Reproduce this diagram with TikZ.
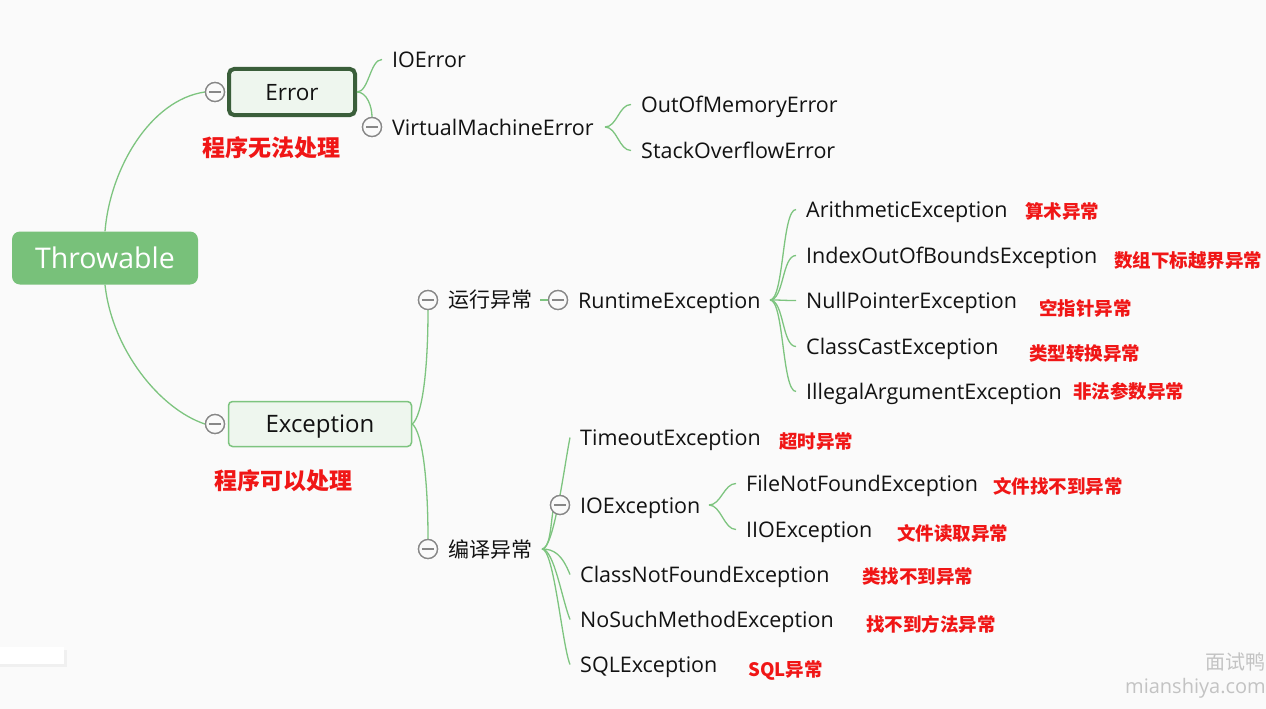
\documentclass[tikz,border=0pt]{standalone}
\usepackage{fontspec}
\newfontfamily\lat{Open Sans}
\newfontfamily\cjk{Noto Sans CJK SC}
\definecolor{bgc}{RGB}{250,250,250}
\definecolor{lnk}{RGB}{125,196,127}
\definecolor{thrc}{RGB}{120,193,122}
\definecolor{errb}{RGB}{58,94,58}
\definecolor{boxf}{RGB}{238,246,238}
\definecolor{tgc}{RGB}{135,135,135}
\definecolor{redc}{RGB}{240,22,22}
\definecolor{wmc}{RGB}{195,195,195}
\tikzset{
  link/.style={draw=lnk,line width=1.3pt},
  item/.style={anchor=base west,inner sep=0pt,text height=15pt,text depth=0pt,font=\lat\fontsize{21.5}{25}\selectfont,text=black!93},
  cn/.style={anchor=west,inner sep=0pt,font=\cjk\fontsize{21}{25}\selectfont,text=black!93},
  note/.style={anchor=west,inner sep=0pt,text=redc,font=\cjk\bfseries\fontsize{18.5}{22}\selectfont},
  bignote/.style={anchor=west,inner sep=0pt,text=redc,font=\cjk\bfseries\fontsize{23}{27}\selectfont},
  tog/.style={circle,draw=tgc,line width=1.3pt,fill=bgc,minimum size=19pt,inner sep=0pt,
    path picture={\draw[tgc,line width=1.3pt] ([xshift=-6pt]path picture bounding box.center) -- ([xshift=6pt]path picture bounding box.center);}},
}
\begin{document}
\begin{tikzpicture}[x=1pt,y=-1pt]
\useasboundingbox (0,0) rectangle (1266,709);
\fill[bgc] (0,0) rectangle (1266,709);
% faint panel bottom-left
\fill[black!6] (0,650) rectangle (67,667);
\fill[white] (0,647) rectangle (64,664);

% root and main boxes
\node[fill=thrc,rounded corners=8pt,minimum width=186pt,minimum height=53pt,inner sep=0pt,
  text height=20pt,text depth=0pt,
  text=white,font=\lat\fontsize{28.5}{32}\selectfont] (thr) at (105,258) {Throwable};
\node[draw=errb,line width=4pt,fill=boxf,rounded corners=5pt,minimum width=126pt,minimum height=46pt,
  inner sep=0pt,text height=16pt,text depth=0pt,text=black!93,font=\lat\fontsize{22.5}{26}\selectfont] (err) at (292,92) {Error};
\node[draw=lnk,line width=1.5pt,fill=boxf,rounded corners=4pt,minimum width=183pt,minimum height=45pt,
  inner sep=0pt,text height=17pt,text depth=0pt,text=black!93,font=\lat\fontsize{24}{28}\selectfont] (exc) at (320,424) {Exception};
\node[tog] (cErr) at (215,92) {};
\node[tog] (cExc) at (215,424) {};
\node[bignote] (n1) at (202,148) {程序无法处理};
\node[bignote] (n2) at (214,481) {程序可以处理};

% Error branch
\node[item] (ioerr) at (392,67) {IOError};
\node[tog] (cVme) at (372,127) {};
\node[item] (vme) at (392,135) {VirtualMachineError};
\node[item] (oom) at (641,112) {OutOfMemoryError};
\node[item] (soe) at (641,158) {StackOverflowError};
\coordinate (fV) at (605,127);

% Exception branch
\node[tog] (cRun) at (428,300) {};
\node[cn] (run) at (448,300) {运行异常};
\node[tog] (cComp) at (428,549) {};
\node[cn] (comp) at (448,549) {编译异常};
\coordinate (fRun) at (540,300);
\node[tog] (cRte) at (558,300) {};
\node[item] (rte) at (578,308) {RuntimeException};
\coordinate (fR) at (770,300);
\node[item] (ari) at (806,217) {ArithmeticException};
\node[item] (idx) at (806,263) {IndexOutOfBoundsException};
\node[item] (npe) at (806,308) {NullPointerException};
\node[item] (cce) at (806,354) {ClassCastException};
\node[item] (iae) at (806,399) {IllegalArgumentException};
\node[note] (r1) at (1025,211) {算术异常};
\node[note] (r2) at (1114,260) {数组下标越界异常};
\node[note] (r3) at (1039,308) {空指针异常};
\node[note] (r4) at (1029,354) {类型转换异常};
\node[note] (r5) at (1073,391) {非法参数异常};

\coordinate (fC) at (542,549);
\node[item] (tmo) at (580,445) {TimeoutException};
\node[tog] (cIO) at (560,505) {};
\node[item] (ioe) at (580,513) {IOException};
\coordinate (fI) at (709,505);
\node[item] (fnf) at (746,491) {FileNotFoundException};
\node[item] (iio) at (746,537) {IIOException};
\node[item] (cnf) at (580,582) {ClassNotFoundException};
\node[item] (nsm) at (580,627) {NoSuchMethodException};
\node[item] (sql) at (580,672) {SQLException};
\node[note] (r6) at (779,441) {超时异常};
\node[note] (r7) at (993,486) {文件找不到异常};
\node[note] (r8) at (897,533) {文件读取异常};
\node[note] (r9) at (862,576) {类找不到异常};
\node[note] (r10) at (866,624) {找不到方法异常};
\node[note] (r11) at (748,671) {SQL异常};

% watermark
\node[anchor=east,inner sep=0pt,text=wmc,font=\cjk\fontsize{20}{22}\selectfont] (wm1) at (1266,662) {面试鸭};
\node[anchor=east,inner sep=0pt,text=wmc,font=\lat\fontsize{20}{24}\selectfont] (wm2) at (1266,688) {mianshiya.com};

% connectors
\draw[link] (thr.north) .. controls +(5,-62) and +(-55,8) .. (cErr.west);
\draw[link] (thr.south) .. controls +(7,65) and +(-45,-15) .. (cExc.west);
\draw[link] (err.east) .. controls +(12,0) and +(-12,0) .. ([xshift=-10pt]ioerr.west);
\draw[link] (err.east) .. controls +(10,0) and +(0,-10) .. (cVme.north);
\draw[link] (fV) .. controls +(12,0) and +(-12,0) .. ([xshift=-10pt]oom.west);
\draw[link] (fV) .. controls +(12,0) and +(-12,0) .. ([xshift=-10pt]soe.west);
\draw[link] (exc.east) .. controls +(10,-8) and +(0,60) .. (cRun.south);
\draw[link] (exc.east) .. controls +(10,8) and +(0,-60) .. (cComp.north);
\draw[link] (fRun) -- (cRte.west);
\foreach \t in {ari,idx,npe,cce,iae}
  \draw[link] (fR) .. controls +(14,0) and +(-14,0) .. ([xshift=-10pt]\t.west);
\draw[link] (fC) .. controls +(12,0) and +(-6,30) .. ([xshift=-10pt]tmo.west);
\draw[link] (fC) .. controls +(8,0) and +(-2,12) .. (cIO.south west);
\foreach \t in {cnf,nsm,sql}
  \draw[link] (fC) .. controls +(12,0) and +(-8,-20) .. ([xshift=-10pt]\t.west);
\draw[link] (fI) .. controls +(12,0) and +(-12,0) .. ([xshift=-10pt]fnf.west);
\draw[link] (fI) .. controls +(12,0) and +(-12,0) .. ([xshift=-10pt]iio.west);
% toggles drawn above links
\node[tog] at (cErr) {};
\node[tog] at (cExc) {};
\node[tog] at (cVme) {};
\node[tog] at (cRun) {};
\node[tog] at (cComp) {};
\node[tog] at (cRte) {};
\node[tog] at (cIO) {};
\end{tikzpicture}
\end{document}
